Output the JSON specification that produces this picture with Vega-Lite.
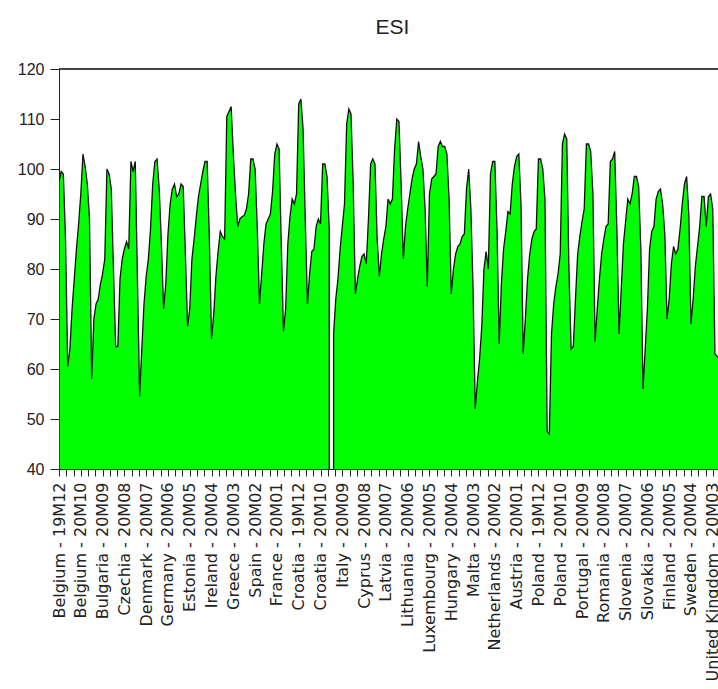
{
  "$schema": "https://vega.github.io/schema/vega-lite/v6.json",
  "autosize": "none",
  "width": 659,
  "height": 400,
  "padding": {"left": 59, "top": 69, "right": 0, "bottom": 220},
  "background": "white",
  "title": {"text": "ESI", "font": "Liberation Sans", "fontSize": 21, "fontWeight": "normal", "color": "#222", "baseline": "alphabetic", "offset": 6, "dx": 4},
  "config": {"view": {"stroke": null}},
  "data": {"values": [
    {"obs":0,"country":"Belgium","month":"19M12","esi":97.5},{"obs":1,"country":"Belgium","month":"20M01","esi":99.5},{"obs":2,"country":"Belgium","month":"20M02","esi":99},{"obs":3,"country":"Belgium","month":"20M03","esi":86},{"obs":4,"country":"Belgium","month":"20M04","esi":60.5},{"obs":5,"country":"Belgium","month":"20M05","esi":64},{"obs":6,"country":"Belgium","month":"20M06","esi":72},{"obs":7,"country":"Belgium","month":"20M07","esi":78},{"obs":8,"country":"Belgium","month":"20M08","esi":84},{"obs":9,"country":"Belgium","month":"20M09","esi":89},{"obs":10,"country":"Belgium","month":"20M10","esi":95},
    {"obs":11,"country":"Bulgaria","month":"19M12","esi":103},{"obs":12,"country":"Bulgaria","month":"20M01","esi":100.5},{"obs":13,"country":"Bulgaria","month":"20M02","esi":97},{"obs":14,"country":"Bulgaria","month":"20M03","esi":90},{"obs":15,"country":"Bulgaria","month":"20M04","esi":58},{"obs":16,"country":"Bulgaria","month":"20M05","esi":70},{"obs":17,"country":"Bulgaria","month":"20M06","esi":73},{"obs":18,"country":"Bulgaria","month":"20M07","esi":74},{"obs":19,"country":"Bulgaria","month":"20M08","esi":77},{"obs":20,"country":"Bulgaria","month":"20M09","esi":79},{"obs":21,"country":"Bulgaria","month":"20M10","esi":82},
    {"obs":22,"country":"Czechia","month":"19M12","esi":100},{"obs":23,"country":"Czechia","month":"20M01","esi":99},{"obs":24,"country":"Czechia","month":"20M02","esi":96},{"obs":25,"country":"Czechia","month":"20M03","esi":80},{"obs":26,"country":"Czechia","month":"20M04","esi":64.5},{"obs":27,"country":"Czechia","month":"20M05","esi":64.5},{"obs":28,"country":"Czechia","month":"20M06","esi":78},{"obs":29,"country":"Czechia","month":"20M07","esi":82},{"obs":30,"country":"Czechia","month":"20M08","esi":84},{"obs":31,"country":"Czechia","month":"20M09","esi":85.5},{"obs":32,"country":"Czechia","month":"20M10","esi":84},
    {"obs":33,"country":"Denmark","month":"19M12","esi":101.5},{"obs":34,"country":"Denmark","month":"20M01","esi":99.5},{"obs":35,"country":"Denmark","month":"20M02","esi":101.5},{"obs":36,"country":"Denmark","month":"20M03","esi":78},{"obs":37,"country":"Denmark","month":"20M04","esi":54.5},{"obs":38,"country":"Denmark","month":"20M05","esi":64},{"obs":39,"country":"Denmark","month":"20M06","esi":73},{"obs":40,"country":"Denmark","month":"20M07","esi":78.5},{"obs":41,"country":"Denmark","month":"20M08","esi":82},{"obs":42,"country":"Denmark","month":"20M09","esi":88},{"obs":43,"country":"Denmark","month":"20M10","esi":97},
    {"obs":44,"country":"Germany","month":"19M12","esi":101.5},{"obs":45,"country":"Germany","month":"20M01","esi":102},{"obs":46,"country":"Germany","month":"20M02","esi":96},{"obs":47,"country":"Germany","month":"20M03","esi":85},{"obs":48,"country":"Germany","month":"20M04","esi":72},{"obs":49,"country":"Germany","month":"20M05","esi":77},{"obs":50,"country":"Germany","month":"20M06","esi":87},{"obs":51,"country":"Germany","month":"20M07","esi":93},{"obs":52,"country":"Germany","month":"20M08","esi":96},{"obs":53,"country":"Germany","month":"20M09","esi":97},{"obs":54,"country":"Germany","month":"20M10","esi":94.5},
    {"obs":55,"country":"Estonia","month":"19M12","esi":95},{"obs":56,"country":"Estonia","month":"20M01","esi":97},{"obs":57,"country":"Estonia","month":"20M02","esi":96.5},{"obs":58,"country":"Estonia","month":"20M03","esi":83},{"obs":59,"country":"Estonia","month":"20M04","esi":68.5},{"obs":60,"country":"Estonia","month":"20M05","esi":72},{"obs":61,"country":"Estonia","month":"20M06","esi":82},{"obs":62,"country":"Estonia","month":"20M07","esi":86},{"obs":63,"country":"Estonia","month":"20M08","esi":90.5},{"obs":64,"country":"Estonia","month":"20M09","esi":94.5},{"obs":65,"country":"Estonia","month":"20M10","esi":97},
    {"obs":66,"country":"Ireland","month":"19M12","esi":99.5},{"obs":67,"country":"Ireland","month":"20M01","esi":101.5},{"obs":68,"country":"Ireland","month":"20M02","esi":101.5},{"obs":69,"country":"Ireland","month":"20M03","esi":86},{"obs":70,"country":"Ireland","month":"20M04","esi":66},{"obs":71,"country":"Ireland","month":"20M05","esi":71},{"obs":72,"country":"Ireland","month":"20M06","esi":78.5},{"obs":73,"country":"Ireland","month":"20M07","esi":83.5},{"obs":74,"country":"Ireland","month":"20M08","esi":87.5},{"obs":75,"country":"Ireland","month":"20M09","esi":86.5},{"obs":76,"country":"Ireland","month":"20M10","esi":86},
    {"obs":77,"country":"Greece","month":"19M12","esi":110.5},{"obs":78,"country":"Greece","month":"20M01","esi":111.5},{"obs":79,"country":"Greece","month":"20M02","esi":112.5},{"obs":80,"country":"Greece","month":"20M03","esi":103},{"obs":81,"country":"Greece","month":"20M04","esi":95},{"obs":82,"country":"Greece","month":"20M05","esi":88.5},{"obs":83,"country":"Greece","month":"20M06","esi":90},{"obs":84,"country":"Greece","month":"20M07","esi":90.5},{"obs":85,"country":"Greece","month":"20M08","esi":90.7},{"obs":86,"country":"Greece","month":"20M09","esi":92},{"obs":87,"country":"Greece","month":"20M10","esi":95},
    {"obs":88,"country":"Spain","month":"19M12","esi":102},{"obs":89,"country":"Spain","month":"20M01","esi":102},{"obs":90,"country":"Spain","month":"20M02","esi":100},{"obs":91,"country":"Spain","month":"20M03","esi":88},{"obs":92,"country":"Spain","month":"20M04","esi":73},{"obs":93,"country":"Spain","month":"20M05","esi":79},{"obs":94,"country":"Spain","month":"20M06","esi":85},{"obs":95,"country":"Spain","month":"20M07","esi":89},{"obs":96,"country":"Spain","month":"20M08","esi":90},{"obs":97,"country":"Spain","month":"20M09","esi":91},{"obs":98,"country":"Spain","month":"20M10","esi":95.5},
    {"obs":99,"country":"France","month":"19M12","esi":103},{"obs":100,"country":"France","month":"20M01","esi":105},{"obs":101,"country":"France","month":"20M02","esi":104},{"obs":102,"country":"France","month":"20M03","esi":85},{"obs":103,"country":"France","month":"20M04","esi":67.5},{"obs":104,"country":"France","month":"20M05","esi":72},{"obs":105,"country":"France","month":"20M06","esi":85},{"obs":106,"country":"France","month":"20M07","esi":90.5},{"obs":107,"country":"France","month":"20M08","esi":94},{"obs":108,"country":"France","month":"20M09","esi":93},{"obs":109,"country":"France","month":"20M10","esi":95},
    {"obs":110,"country":"Croatia","month":"19M12","esi":113},{"obs":111,"country":"Croatia","month":"20M01","esi":114},{"obs":112,"country":"Croatia","month":"20M02","esi":108},{"obs":113,"country":"Croatia","month":"20M03","esi":90},{"obs":114,"country":"Croatia","month":"20M04","esi":73},{"obs":115,"country":"Croatia","month":"20M05","esi":79},{"obs":116,"country":"Croatia","month":"20M06","esi":83.5},{"obs":117,"country":"Croatia","month":"20M07","esi":84},{"obs":118,"country":"Croatia","month":"20M08","esi":88.5},{"obs":119,"country":"Croatia","month":"20M09","esi":90},{"obs":120,"country":"Croatia","month":"20M10","esi":89},
    {"obs":121,"country":"Italy","month":"19M12","esi":101},{"obs":122,"country":"Italy","month":"20M01","esi":101},{"obs":123,"country":"Italy","month":"20M02","esi":98.5},{"obs":124,"country":"Italy","month":"20M03","esi":88},{"obs":125,"country":"Italy","month":"20M04","esi":null},{"obs":126,"country":"Italy","month":"20M05","esi":67},{"obs":127,"country":"Italy","month":"20M06","esi":74},{"obs":128,"country":"Italy","month":"20M07","esi":78},{"obs":129,"country":"Italy","month":"20M08","esi":84},{"obs":130,"country":"Italy","month":"20M09","esi":88.5},{"obs":131,"country":"Italy","month":"20M10","esi":93},
    {"obs":132,"country":"Cyprus","month":"19M12","esi":109},{"obs":133,"country":"Cyprus","month":"20M01","esi":112},{"obs":134,"country":"Cyprus","month":"20M02","esi":111},{"obs":135,"country":"Cyprus","month":"20M03","esi":97},{"obs":136,"country":"Cyprus","month":"20M04","esi":75},{"obs":137,"country":"Cyprus","month":"20M05","esi":78},{"obs":138,"country":"Cyprus","month":"20M06","esi":80.5},{"obs":139,"country":"Cyprus","month":"20M07","esi":82.5},{"obs":140,"country":"Cyprus","month":"20M08","esi":83},{"obs":141,"country":"Cyprus","month":"20M09","esi":81},{"obs":142,"country":"Cyprus","month":"20M10","esi":90},
    {"obs":143,"country":"Latvia","month":"19M12","esi":101},{"obs":144,"country":"Latvia","month":"20M01","esi":102},{"obs":145,"country":"Latvia","month":"20M02","esi":101},{"obs":146,"country":"Latvia","month":"20M03","esi":86},{"obs":147,"country":"Latvia","month":"20M04","esi":78.5},{"obs":148,"country":"Latvia","month":"20M05","esi":83},{"obs":149,"country":"Latvia","month":"20M06","esi":86},{"obs":150,"country":"Latvia","month":"20M07","esi":88.5},{"obs":151,"country":"Latvia","month":"20M08","esi":94},{"obs":152,"country":"Latvia","month":"20M09","esi":93},{"obs":153,"country":"Latvia","month":"20M10","esi":94},
    {"obs":154,"country":"Lithuania","month":"19M12","esi":104},{"obs":155,"country":"Lithuania","month":"20M01","esi":110},{"obs":156,"country":"Lithuania","month":"20M02","esi":109.5},{"obs":157,"country":"Lithuania","month":"20M03","esi":97},{"obs":158,"country":"Lithuania","month":"20M04","esi":82},{"obs":159,"country":"Lithuania","month":"20M05","esi":88.5},{"obs":160,"country":"Lithuania","month":"20M06","esi":92},{"obs":161,"country":"Lithuania","month":"20M07","esi":95},{"obs":162,"country":"Lithuania","month":"20M08","esi":98},{"obs":163,"country":"Lithuania","month":"20M09","esi":100},{"obs":164,"country":"Lithuania","month":"20M10","esi":101},
    {"obs":165,"country":"Luxembourg","month":"19M12","esi":105.5},{"obs":166,"country":"Luxembourg","month":"20M01","esi":102.5},{"obs":167,"country":"Luxembourg","month":"20M02","esi":100},{"obs":168,"country":"Luxembourg","month":"20M03","esi":92},{"obs":169,"country":"Luxembourg","month":"20M04","esi":76.5},{"obs":170,"country":"Luxembourg","month":"20M05","esi":95},{"obs":171,"country":"Luxembourg","month":"20M06","esi":98},{"obs":172,"country":"Luxembourg","month":"20M07","esi":98.5},{"obs":173,"country":"Luxembourg","month":"20M08","esi":99},{"obs":174,"country":"Luxembourg","month":"20M09","esi":104.5},{"obs":175,"country":"Luxembourg","month":"20M10","esi":105.5},
    {"obs":176,"country":"Hungary","month":"19M12","esi":104.5},{"obs":177,"country":"Hungary","month":"20M01","esi":104.5},{"obs":178,"country":"Hungary","month":"20M02","esi":103},{"obs":179,"country":"Hungary","month":"20M03","esi":94},{"obs":180,"country":"Hungary","month":"20M04","esi":75},{"obs":181,"country":"Hungary","month":"20M05","esi":80},{"obs":182,"country":"Hungary","month":"20M06","esi":83},{"obs":183,"country":"Hungary","month":"20M07","esi":84.5},{"obs":184,"country":"Hungary","month":"20M08","esi":85},{"obs":185,"country":"Hungary","month":"20M09","esi":86.5},{"obs":186,"country":"Hungary","month":"20M10","esi":87},
    {"obs":187,"country":"Malta","month":"19M12","esi":96},{"obs":188,"country":"Malta","month":"20M01","esi":100},{"obs":189,"country":"Malta","month":"20M02","esi":92},{"obs":190,"country":"Malta","month":"20M03","esi":76},{"obs":191,"country":"Malta","month":"20M04","esi":52},{"obs":192,"country":"Malta","month":"20M05","esi":57.5},{"obs":193,"country":"Malta","month":"20M06","esi":62},{"obs":194,"country":"Malta","month":"20M07","esi":68.5},{"obs":195,"country":"Malta","month":"20M08","esi":80},{"obs":196,"country":"Malta","month":"20M09","esi":83.5},{"obs":197,"country":"Malta","month":"20M10","esi":80},
    {"obs":198,"country":"Netherlands","month":"19M12","esi":99},{"obs":199,"country":"Netherlands","month":"20M01","esi":101.5},{"obs":200,"country":"Netherlands","month":"20M02","esi":101.5},{"obs":201,"country":"Netherlands","month":"20M03","esi":88},{"obs":202,"country":"Netherlands","month":"20M04","esi":65},{"obs":203,"country":"Netherlands","month":"20M05","esi":77},{"obs":204,"country":"Netherlands","month":"20M06","esi":84},{"obs":205,"country":"Netherlands","month":"20M07","esi":87.5},{"obs":206,"country":"Netherlands","month":"20M08","esi":91.5},{"obs":207,"country":"Netherlands","month":"20M09","esi":91},{"obs":208,"country":"Netherlands","month":"20M10","esi":97},
    {"obs":209,"country":"Austria","month":"19M12","esi":100.5},{"obs":210,"country":"Austria","month":"20M01","esi":102.5},{"obs":211,"country":"Austria","month":"20M02","esi":103},{"obs":212,"country":"Austria","month":"20M03","esi":93},{"obs":213,"country":"Austria","month":"20M04","esi":63},{"obs":214,"country":"Austria","month":"20M05","esi":70},{"obs":215,"country":"Austria","month":"20M06","esi":78},{"obs":216,"country":"Austria","month":"20M07","esi":83},{"obs":217,"country":"Austria","month":"20M08","esi":86},{"obs":218,"country":"Austria","month":"20M09","esi":87.5},{"obs":219,"country":"Austria","month":"20M10","esi":88},
    {"obs":220,"country":"Poland","month":"19M12","esi":102},{"obs":221,"country":"Poland","month":"20M01","esi":102},{"obs":222,"country":"Poland","month":"20M02","esi":100},{"obs":223,"country":"Poland","month":"20M03","esi":94},{"obs":224,"country":"Poland","month":"20M04","esi":47.5},{"obs":225,"country":"Poland","month":"20M05","esi":47},{"obs":226,"country":"Poland","month":"20M06","esi":67},{"obs":227,"country":"Poland","month":"20M07","esi":73},{"obs":228,"country":"Poland","month":"20M08","esi":76.5},{"obs":229,"country":"Poland","month":"20M09","esi":79},{"obs":230,"country":"Poland","month":"20M10","esi":83},
    {"obs":231,"country":"Portugal","month":"19M12","esi":105},{"obs":232,"country":"Portugal","month":"20M01","esi":107},{"obs":233,"country":"Portugal","month":"20M02","esi":106},{"obs":234,"country":"Portugal","month":"20M03","esi":80},{"obs":235,"country":"Portugal","month":"20M04","esi":64},{"obs":236,"country":"Portugal","month":"20M05","esi":64.5},{"obs":237,"country":"Portugal","month":"20M06","esi":74},{"obs":238,"country":"Portugal","month":"20M07","esi":83},{"obs":239,"country":"Portugal","month":"20M08","esi":86.5},{"obs":240,"country":"Portugal","month":"20M09","esi":89.5},{"obs":241,"country":"Portugal","month":"20M10","esi":92},
    {"obs":242,"country":"Romania","month":"19M12","esi":105},{"obs":243,"country":"Romania","month":"20M01","esi":105},{"obs":244,"country":"Romania","month":"20M02","esi":103.5},{"obs":245,"country":"Romania","month":"20M03","esi":95},{"obs":246,"country":"Romania","month":"20M04","esi":65.5},{"obs":247,"country":"Romania","month":"20M05","esi":72},{"obs":248,"country":"Romania","month":"20M06","esi":78},{"obs":249,"country":"Romania","month":"20M07","esi":83},{"obs":250,"country":"Romania","month":"20M08","esi":86},{"obs":251,"country":"Romania","month":"20M09","esi":88.5},{"obs":252,"country":"Romania","month":"20M10","esi":89},
    {"obs":253,"country":"Slovenia","month":"19M12","esi":101.5},{"obs":254,"country":"Slovenia","month":"20M01","esi":102},{"obs":255,"country":"Slovenia","month":"20M02","esi":103.5},{"obs":256,"country":"Slovenia","month":"20M03","esi":88},{"obs":257,"country":"Slovenia","month":"20M04","esi":67},{"obs":258,"country":"Slovenia","month":"20M05","esi":76},{"obs":259,"country":"Slovenia","month":"20M06","esi":85},{"obs":260,"country":"Slovenia","month":"20M07","esi":89.5},{"obs":261,"country":"Slovenia","month":"20M08","esi":94},{"obs":262,"country":"Slovenia","month":"20M09","esi":93},{"obs":263,"country":"Slovenia","month":"20M10","esi":95},
    {"obs":264,"country":"Slovakia","month":"19M12","esi":98.5},{"obs":265,"country":"Slovakia","month":"20M01","esi":98.5},{"obs":266,"country":"Slovakia","month":"20M02","esi":96.5},{"obs":267,"country":"Slovakia","month":"20M03","esi":84},{"obs":268,"country":"Slovakia","month":"20M04","esi":56},{"obs":269,"country":"Slovakia","month":"20M05","esi":64},{"obs":270,"country":"Slovakia","month":"20M06","esi":72},{"obs":271,"country":"Slovakia","month":"20M07","esi":84},{"obs":272,"country":"Slovakia","month":"20M08","esi":87.5},{"obs":273,"country":"Slovakia","month":"20M09","esi":88.5},{"obs":274,"country":"Slovakia","month":"20M10","esi":94},
    {"obs":275,"country":"Finland","month":"19M12","esi":95.5},{"obs":276,"country":"Finland","month":"20M01","esi":96},{"obs":277,"country":"Finland","month":"20M02","esi":93},{"obs":278,"country":"Finland","month":"20M03","esi":87},{"obs":279,"country":"Finland","month":"20M04","esi":70},{"obs":280,"country":"Finland","month":"20M05","esi":74},{"obs":281,"country":"Finland","month":"20M06","esi":81},{"obs":282,"country":"Finland","month":"20M07","esi":84.5},{"obs":283,"country":"Finland","month":"20M08","esi":83},{"obs":284,"country":"Finland","month":"20M09","esi":84},{"obs":285,"country":"Finland","month":"20M10","esi":88},
    {"obs":286,"country":"Sweden","month":"19M12","esi":93},{"obs":287,"country":"Sweden","month":"20M01","esi":97},{"obs":288,"country":"Sweden","month":"20M02","esi":98.5},{"obs":289,"country":"Sweden","month":"20M03","esi":91},{"obs":290,"country":"Sweden","month":"20M04","esi":69},{"obs":291,"country":"Sweden","month":"20M05","esi":74},{"obs":292,"country":"Sweden","month":"20M06","esi":80.5},{"obs":293,"country":"Sweden","month":"20M07","esi":84.5},{"obs":294,"country":"Sweden","month":"20M08","esi":88.5},{"obs":295,"country":"Sweden","month":"20M09","esi":94.5},{"obs":296,"country":"Sweden","month":"20M10","esi":94.5},
    {"obs":297,"country":"United Kingdom","month":"19M12","esi":88.5},{"obs":298,"country":"United Kingdom","month":"20M01","esi":94.5},{"obs":299,"country":"United Kingdom","month":"20M02","esi":95},{"obs":300,"country":"United Kingdom","month":"20M03","esi":92},{"obs":301,"country":"United Kingdom","month":"20M04","esi":63},{"obs":302,"country":"United Kingdom","month":"20M05","esi":62.5},{"obs":303,"country":"United Kingdom","month":"20M06","esi":62},{"obs":304,"country":"United Kingdom","month":"20M07","esi":68},{"obs":305,"country":"United Kingdom","month":"20M08","esi":74},{"obs":306,"country":"United Kingdom","month":"20M09","esi":78},{"obs":307,"country":"United Kingdom","month":"20M10","esi":80}
  ]},
  "layer": [
    {
      "mark": {"type": "area", "fill": "#00ff00", "fillOpacity": 1, "stroke": "#111111", "strokeWidth": 1.3, "clip": true, "interpolate": "linear"},
      "encoding": {
        "x": {"field": "obs", "type": "quantitative",
          "scale": {"domain": [0, 302.4], "nice": false, "zero": false},
          "axis": {
            "title": null, "grid": false,
            "values": [0,3.3333,6.6667,10,13.3333,16.6667,20,23.3333,26.6667,30,33.3333,36.6667,40,43.3333,46.6667,50,53.3333,56.6667,60,63.3333,66.6667,70,73.3333,76.6667,80,83.3333,86.6667,90,93.3333,96.6667,100,103.3333,106.6667,110,113.3333,116.6667,120,123.3333,126.6667,130,133.3333,136.6667,140,143.3333,146.6667,150,153.3333,156.6667,160,163.3333,166.6667,170,173.3333,176.6667,180,183.3333,186.6667,190,193.3333,196.6667,200,203.3333,206.6667,210,213.3333,216.6667,220,223.3333,226.6667,230,233.3333,236.6667,240,243.3333,246.6667,250,253.3333,256.6667,260,263.3333,266.6667,270,273.3333,276.6667,280,283.3333,286.6667,290,293.3333,296.6667,300],
            "labelExpr": "abs(datum.value/10 - round(datum.value/10)) < 0.01 ? ['Belgium - 19M12','Belgium - 20M10','Bulgaria - 20M09','Czechia - 20M08','Denmark - 20M07','Germany - 20M06','Estonia - 20M05','Ireland - 20M04','Greece - 20M03','Spain - 20M02','France - 20M01','Croatia - 19M12','Croatia - 20M10','Italy - 20M09','Cyprus - 20M08','Latvia - 20M07','Lithuania - 20M06','Luxembourg - 20M05','Hungary - 20M04','Malta - 20M03','Netherlands - 20M02','Austria - 20M01','Poland - 19M12','Poland - 20M10','Portugal - 20M09','Romania - 20M08','Slovenia - 20M07','Slovakia - 20M06','Finland - 20M05','Sweden - 20M04','United Kingdom - 20M03'][round(datum.value/10)] : ''",
            "labelAngle": -90, "labelAlign": "right", "labelBaseline": "middle",
            "labelFont": "DejaVu Sans", "labelFontSize": 16, "labelColor": "#222",
            "labelPadding": 6, "labelLimit": 400, "labelOverlap": false, "labelFlush": false, "labelBound": false,
            "tickSize": 7, "tickColor": "#222", "tickWidth": 1,
            "domainColor": "#222", "domainWidth": 1
          }
        },
        "y": {"field": "esi", "type": "quantitative",
          "scale": {"domain": [40, 120], "nice": false, "zero": false},
          "axis": {
            "title": null, "grid": false,
            "values": [40,50,60,70,80,90,100,110,120],
            "labelFont": "Liberation Sans", "labelFontSize": 16, "labelColor": "#222",
            "labelPadding": 6, "tickSize": 9, "tickColor": "#222", "tickWidth": 1,
            "domainColor": "#222", "domainWidth": 1
          }
        }
      }
    },
    {
      "mark": {"type": "rule", "color": "#444444", "strokeWidth": 1.6},
      "encoding": {"y": {"datum": 120}}
    }
  ]
}
